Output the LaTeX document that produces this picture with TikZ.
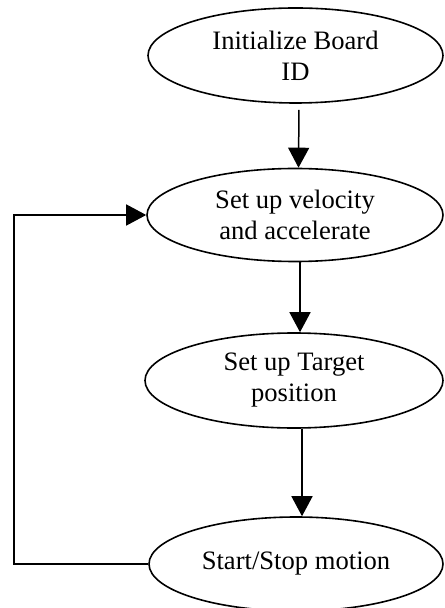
\documentclass[tikz,border=0pt]{standalone}
\usepackage{fontspec}
\setmainfont{Liberation Serif}
\usetikzlibrary{shapes.geometric,arrows.meta}
\begin{document}
\begin{tikzpicture}[x=0.5pt,y=-0.5pt,
  stepbox/.style={ellipse,draw,line width=0.8pt,inner sep=0pt,align=center,
    font=\fontsize{13.3}{15.5}\selectfont},
  arr/.style={line width=0.75pt,-{Triangle[length=10pt,width=10.5pt]}}]
\useasboundingbox (0,0) rectangle (444,608);
\node[stepbox,minimum width=147.5pt,minimum height=47.5pt] (e1) at (295.5,55.5) {Initialize Board\\ID};
\node[stepbox,minimum width=148pt,minimum height=46.5pt] (e2) at (295,215) {Set up velocity\\and accelerate};
\node[stepbox,minimum width=149pt,minimum height=47.5pt] (e3) at (294,380.5) {Set up Target\\position};
\node[stepbox,minimum width=147pt,minimum height=47pt] (e4) at (296,564) {Start/Stop motion};
\coordinate (loopx) at (14,0);
\draw[arr,shorten <=3pt] ([xshift=1.75pt]e1.south) -- ([xshift=1.75pt]e2.north);
\draw[arr] ([xshift=2.5pt]e2.south) -- ([xshift=3pt]e3.north);
\draw[arr] ([xshift=4pt]e3.south) -- ([xshift=3pt]e4.north);
\draw[arr] (e4.west) -- (e4.west -| loopx) |- (e2.west);
\end{tikzpicture}
\end{document}
